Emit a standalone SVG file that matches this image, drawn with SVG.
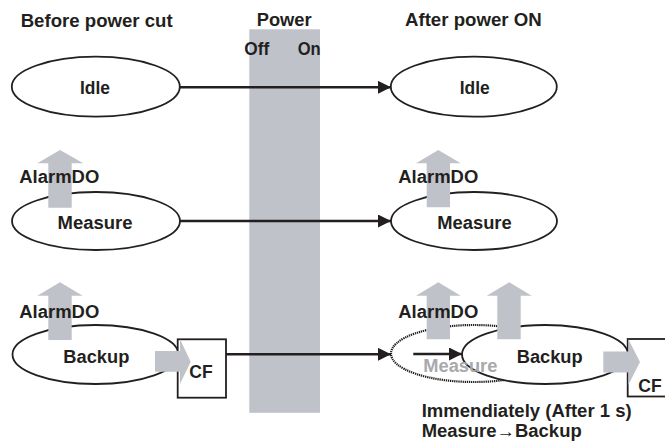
<svg xmlns="http://www.w3.org/2000/svg" width="665" height="443" viewBox="0 0 665 443">
<style>
text{font-family:"Liberation Sans",Arial,sans-serif;font-weight:bold;font-size:17.5px;fill:#231f20}
.mid{text-anchor:middle}
.st{fill:#fff;stroke:#231f20;stroke-width:1.8}
.dot{fill:#fff;stroke:#231f20;stroke-width:2.2;stroke-dasharray:1.3 0.8}
.ga{fill:#bfc2c9}
.cn{stroke:#231f20;stroke-width:2.4;fill:none}
.box{fill:#fff;stroke:#231f20;stroke-width:1.8}
.ghost{fill:#a7a9ac}
</style>
<defs>
<marker id="ah" markerWidth="14" markerHeight="14" refX="13" refY="6.5" orient="auto" markerUnits="userSpaceOnUse">
<path d="M0,0 L13,6.5 L0,13 Z" fill="#231f20"/>
</marker>
</defs>
<rect width="665" height="443" fill="#fff"/>
<g id="headers">
<text x="20.7" y="26.5" textLength="152" lengthAdjust="spacingAndGlyphs">Before power cut</text>
<text x="256.7" y="26" textLength="55" lengthAdjust="spacingAndGlyphs">Power</text>
<text x="405" y="26" textLength="136.7" lengthAdjust="spacingAndGlyphs">After power ON</text>
</g>
<g id="power-band">
<rect x="249.3" y="29.3" width="70.7" height="383.5" fill="#bfc2c9"/>
<text x="244.3" y="55" textLength="25" lengthAdjust="spacingAndGlyphs">Off</text>
<text x="297.7" y="55" textLength="23" lengthAdjust="spacingAndGlyphs">On</text>
</g>
<g id="idle-before">
<ellipse class="st" cx="95.8" cy="86.7" rx="84" ry="30"/>
<text class="mid" x="95" y="94.3" textLength="30" lengthAdjust="spacingAndGlyphs">Idle</text>
</g>
<g id="idle-after">
<ellipse class="st" cx="473.8" cy="86.7" rx="83" ry="30"/>
<text class="mid" x="474.7" y="94.3" textLength="30" lengthAdjust="spacingAndGlyphs">Idle</text>
</g>
<g id="measure-before">
<ellipse class="st" cx="96" cy="221" rx="84" ry="29"/>
<polygon class="ga" points="60,150 83.3,163.3 71.7,163.3 71.7,207.7 48.3,207.7 48.3,163.3 37.3,163.3"/>
<text x="19.3" y="183.3" textLength="80" lengthAdjust="spacingAndGlyphs">AlarmDO</text>
<text class="mid" x="95" y="228.5" textLength="75" lengthAdjust="spacingAndGlyphs">Measure</text>
</g>
<g id="measure-after">
<ellipse class="st" cx="474" cy="221" rx="83" ry="29"/>
<polygon class="ga" points="438.3,150 460.7,163.3 450,163.3 450,207.3 426.7,207.3 426.7,163.3 416,163.3"/>
<text x="398.3" y="183.3" textLength="80" lengthAdjust="spacingAndGlyphs">AlarmDO</text>
<text class="mid" x="474.5" y="229" textLength="74.4" lengthAdjust="spacingAndGlyphs">Measure</text>
</g>
<g id="backup-before">
<ellipse class="st" cx="95.5" cy="354.5" rx="83" ry="29.5"/>
<rect class="box" x="177.7" y="339.3" width="48.3" height="58.4"/>
<polygon class="ga" points="60,282.3 82.7,295.7 71.7,295.7 71.7,340 48.3,340 48.3,295.7 37.3,295.7"/>
<polygon class="ga" points="155,351 180,351 180,339.3 190.7,361.7 180,384 180,371.7 155,371.7"/>
<text x="19.3" y="318.3" textLength="80" lengthAdjust="spacingAndGlyphs">AlarmDO</text>
<text class="mid" x="96.3" y="362.7" textLength="66" lengthAdjust="spacingAndGlyphs">Backup</text>
<text x="189.3" y="378.3" textLength="23.4" lengthAdjust="spacingAndGlyphs">CF</text>
</g>
<g id="backup-after">
<ellipse class="dot" cx="474" cy="353.5" rx="83" ry="28.5"/>
<ellipse class="st" cx="545" cy="354.5" rx="83" ry="29.5"/>
<rect class="box" x="627.7" y="339" width="60" height="57.5"/>
<text class="ghost" x="423.3" y="372.3" textLength="74" lengthAdjust="spacingAndGlyphs">Measure</text>
<polygon class="ga" points="438.3,282.3 460.7,295.7 450,295.7 450,339.3 426.7,339.3 426.7,295.7 416,295.7"/>
<polygon class="ga" points="509.3,282.3 531.7,295.7 520.7,295.7 520.7,339.3 497.3,339.3 497.3,295.7 486.7,295.7"/>
<polygon class="ga" points="603.3,351.5 628.3,351.5 628.3,339 640,362 628.3,385 628.3,372.5 603.3,372.5"/>
<text x="398.3" y="318.3" textLength="80" lengthAdjust="spacingAndGlyphs">AlarmDO</text>
<text class="mid" x="549.7" y="362.7" textLength="66" lengthAdjust="spacingAndGlyphs">Backup</text>
<text x="638.3" y="391.7" textLength="23.4" lengthAdjust="spacingAndGlyphs">CF</text>
</g>
<g id="connectors">
<line class="cn" x1="180" y1="87.3" x2="391" y2="87.3" marker-end="url(#ah)"/>
<line class="cn" x1="180" y1="221" x2="391" y2="221" marker-end="url(#ah)"/>
<line class="cn" x1="226" y1="354.3" x2="391" y2="354.3" marker-end="url(#ah)"/>
<line class="cn" x1="413.3" y1="354" x2="462" y2="354" marker-end="url(#ah)"/>
</g>
<g id="note">
<text x="421.7" y="416.7" textLength="210" lengthAdjust="spacingAndGlyphs">Immendiately (After 1 s)</text>
<text x="421.7" y="437.3" textLength="160" lengthAdjust="spacingAndGlyphs">Measure→Backup</text>
</g>
</svg>
